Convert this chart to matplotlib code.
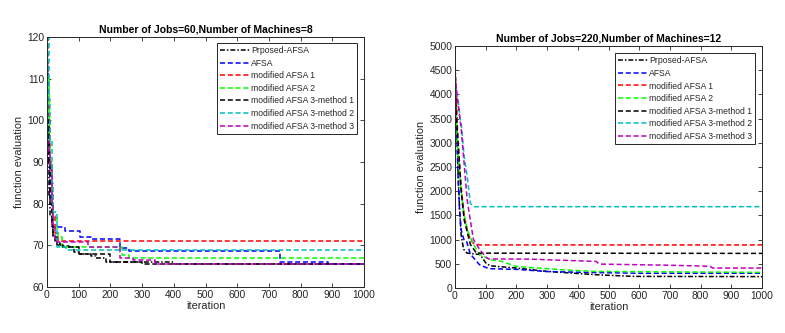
import numpy as np
import matplotlib
matplotlib.use("Agg")
import matplotlib.pyplot as plt

plt.rcParams["font.family"] = ["Liberation Sans", "DejaVu Sans"]

LABELS = ["Prposed-AFSA", "AFSA", "modified AFSA 1", "modified AFSA 2",
          "modified AFSA 3-method 1", "modified AFSA 3-method 2",
          "modified AFSA 3-method 3"]
COLORS = ["k", "b", "r", "#00ff00", "k", "c", "m"]
DASH = (0, (3.3, 1.8))
DASHDOT = (0, (3.2, 1.3, 1.0, 1.3))
STYLES = [DASHDOT, DASH, DASH, DASH, DASH, DASH, DASH]

# --- Jobs=60, Machines=8 (step-like convergence curves) ---
jobs60_iter = [
    [1, 3, 6, 10, 15, 20, 25, 30, 40, 50, 70, 85, 100, 140, 155, 185, 400, 1000],
    [1, 3, 6, 10, 15, 20, 57, 104, 140, 230, 260, 735, 888, 1000],
    [0, 3, 6, 10, 15, 20, 25, 35, 1000],
    [0, 5, 10, 15, 20, 30, 35, 46, 236, 260, 1000],
    [0, 5, 10, 15, 20, 30, 50, 100, 200, 300, 1000],
    [0, 5, 10, 15, 20, 30, 60, 1000],
    [0, 5, 10, 15, 20, 25, 30, 130, 230, 270, 340, 1000],
]
jobs60_val = [
    [100, 90, 82, 77, 74, 72, 71, 70.5, 70, 69.8, 69.5, 68.5, 68, 67.5, 67, 66, 65.5, 65.5],
    [113, 100, 90, 82, 78, 74.5, 73.4, 72, 71.5, 69.4, 68.6, 66, 65.5, 65.5],
    [120, 110, 100, 90, 82, 77, 73, 71, 71],
    [110, 95, 89.5, 80, 76.5, 74, 72, 69.5, 67.8, 67, 67],
    [100, 90, 80, 75, 72, 70, 69.5, 68, 66, 65.5, 65.5],
    [120, 105, 95, 85, 78, 69.5, 69, 69],
    [95, 92, 88, 80, 75, 71, 70.8, 69.5, 67, 66.5, 65.5, 65.5],
]

# --- Jobs=220, Machines=12 ---
jobs220_iter = [
    [0, 5, 10, 15, 20, 28, 39, 82, 100, 114, 200, 300, 460, 580, 1000],
    [0, 5, 10, 15, 20, 30, 38, 50, 80, 110, 200, 300, 450, 600, 1000],
    [0, 5, 10, 20, 30, 40, 50, 60, 80, 1000],
    [0, 5, 10, 20, 30, 40, 60, 80, 114, 147, 200, 350, 450, 1000],
    [0, 10, 20, 30, 50, 70, 1000],
    [0, 10, 16, 22, 30, 40, 50, 60, 1000],
    [0, 10, 20, 40, 60, 80, 100, 110, 240, 460, 470, 700, 830, 840, 1000],
]
jobs220_val = [
    [4800, 3500, 2400, 1600, 1100, 800, 721, 690, 520, 460, 412, 343, 274, 240, 235],
    [4300, 3300, 2300, 1600, 1200, 980, 960, 700, 480, 400, 385, 340, 320, 305, 305],
    [4500, 3800, 3000, 2100, 1500, 1200, 1000, 920, 890, 890],
    [3900, 3400, 2800, 2000, 1500, 1200, 900, 700, 583, 560, 445, 377, 343, 322],
    [4000, 3000, 2000, 1400, 900, 720, 715],
    [4200, 3900, 3550, 3300, 2700, 2300, 1750, 1680, 1680],
    [4400, 3800, 3300, 1800, 1000, 800, 640, 600, 597, 549, 494, 470, 450, 412, 412],
]

fig = plt.figure(figsize=(7.85, 3.33), dpi=100)
ax1 = fig.add_axes([47 / 785, 1 - 287 / 333, 317 / 785, 250 / 333])
ax2 = fig.add_axes([455 / 785, 1 - 288 / 333, 307 / 785, 242 / 333])

txt = "#262626"


def style_axes(ax, title, yticks):
    ax.set_xlim(0, 1000)
    ax.set_xticks(np.arange(0, 1001, 100))
    ax.set_yticks(yticks)
    ax.set_ylim(yticks[0], yticks[-1])
    ax.tick_params(direction="in", top=True, right=True, length=3, width=0.6,
                   labelsize=7.4, colors=txt, pad=2)
    for s in ax.spines.values():
        s.set_linewidth(0.7)
        s.set_color(txt)
    ax.set_title(title, fontsize=7.5, fontweight="bold", color="k", pad=3)
    ax.set_xlabel("iteration", fontsize=7.8, color=txt, labelpad=1)
    ax.set_ylabel("function evaluation", fontsize=7.8, color=txt, labelpad=2)


for i in range(7):
    ax1.plot(jobs60_iter[i], jobs60_val[i], linestyle=STYLES[i], color=COLORS[i],
             lw=1.1, drawstyle="steps-post", label=LABELS[i])
    ax2.plot(jobs220_iter[i], jobs220_val[i], linestyle=STYLES[i], color=COLORS[i],
             lw=1.1, label=LABELS[i])

style_axes(ax1, "Number of Jobs=60,Number of Machines=8", np.arange(60, 121, 10))
style_axes(ax2, "Number of Jobs=220,Number of Machines=12", np.arange(0, 5001, 500))

for ax, anchor in [(ax1, (0.978, 0.976)), (ax2, (0.977, 0.97))]:
    leg = ax.legend(loc="upper right", bbox_to_anchor=anchor, borderaxespad=0,
                    fontsize=6.2, handlelength=3.4, handletextpad=0.15,
                    labelspacing=0.42, borderpad=0.35, fancybox=False,
                    framealpha=1, edgecolor="#262626")
    leg.get_frame().set_linewidth(0.7)
    for t in leg.get_texts():
        t.set_color(txt)

fig.savefig("out.png", dpi=100)
